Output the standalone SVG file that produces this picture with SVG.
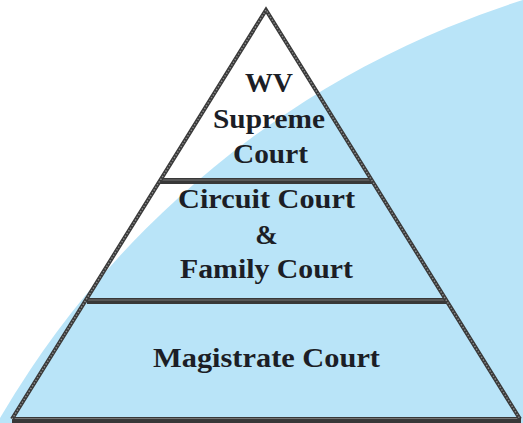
<svg xmlns="http://www.w3.org/2000/svg" width="523" height="423" viewBox="0 0 523 423">
<style>
.t{font-family:"Liberation Serif","Times New Roman",serif;font-weight:bold;font-size:27px;fill:#1c1e26;text-anchor:middle}
.edge{fill:none;stroke:#3a3a3a;stroke-width:4;stroke-linejoin:miter}
.bead{fill:none;stroke:#8e8e8e;stroke-width:1.4;stroke-dasharray:1.4 1.8}
.bar{stroke:#383838;stroke-width:6}
.barhi{stroke:#767676;stroke-width:1.2}
</style>
<rect width="523" height="423" fill="#ffffff"/>
<circle cx="802" cy="885" r="928" fill="#b9e4f8"/>
<g id="pyramid">
<line class="bar" x1="160" y1="181" x2="372" y2="181"/>
<line class="barhi" x1="161" y1="180" x2="371" y2="180"/>
<line class="bar" x1="87" y1="301" x2="446" y2="301"/>
<line class="barhi" x1="88" y1="300" x2="445" y2="300"/>
<line class="bar" x1="12" y1="420" x2="521" y2="420"/>
<line class="barhi" x1="13" y1="418.5" x2="520" y2="418.5"/>
<polyline class="edge" points="12,419 266,10 520,419"/>
<polyline class="bead" points="12,419 266,10 520,419"/>
</g>
<g id="node-supreme">
<text class="t" x="269" y="92" textLength="48" lengthAdjust="spacingAndGlyphs">WV</text>
<text class="t" x="269" y="128" textLength="112" lengthAdjust="spacingAndGlyphs">Supreme</text>
<text class="t" x="270.5" y="163" textLength="75" lengthAdjust="spacingAndGlyphs">Court</text>
</g>
<g id="node-circuit">
<text class="t" x="266.5" y="208" textLength="177" lengthAdjust="spacingAndGlyphs">Circuit Court</text>
<text class="t" x="266.5" y="244">&amp;</text>
<text class="t" x="266.5" y="278" textLength="173" lengthAdjust="spacingAndGlyphs">Family Court</text>
</g>
<g id="node-magistrate">
<text class="t" x="266.5" y="367" textLength="227" lengthAdjust="spacingAndGlyphs">Magistrate Court</text>
</g>
<g id="connectors"/>
</svg>
